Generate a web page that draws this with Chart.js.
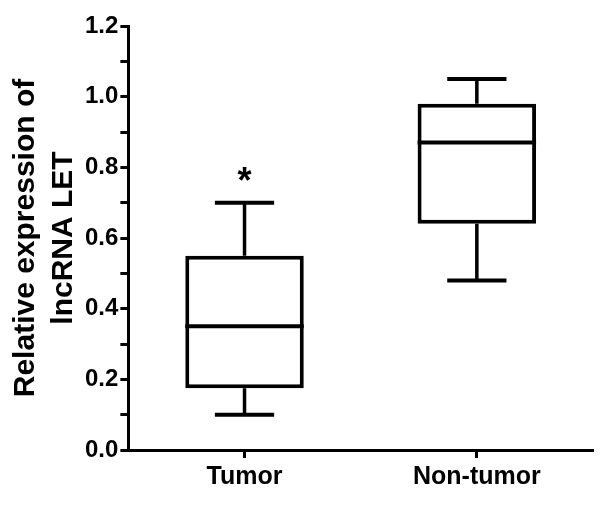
<!DOCTYPE html>
<html>
<head>
<meta charset="utf-8">
<script src="https://cdn.jsdelivr.net/npm/chart.js@4"></script>
<style>
  html, body { margin: 0; padding: 0; background: #fff; }
  #wrap { width: 600px; height: 506px; }
</style>
</head>
<body>
<div id="wrap"><canvas id="chart" width="600" height="506"></canvas></div>
<script>
const categories = ['Tumor', 'Non-tumor'];
const whiskerLow = [0.10, 0.48];
const q1 = [0.175, 0.64];
const median = [0.35, 0.87];
const q3 = [0.55, 0.98];
const whiskerHigh = [0.70, 1.05];
const marks = ['*', ''];
const markLevel = [0.78, null];

const FONT = "'Liberation Sans', Arial, sans-serif";

// whiskers, caps, medians and the asterisk, placed with the chart's own scales
const boxExtras = {
  id: 'boxExtras',
  afterDatasetsDraw(chart) {
    const ctx = chart.ctx;
    const y = chart.scales.y;
    const meta = chart.getDatasetMeta(0);
    ctx.save();
    ctx.strokeStyle = '#000';
    ctx.lineCap = 'butt';
    meta.data.forEach((bar, i) => {
      const cx = bar.x;
      const half = bar.width / 2;
      const cap = bar.width * 0.25;
      // whiskers
      ctx.lineWidth = 3.5;
      ctx.beginPath();
      ctx.moveTo(cx, y.getPixelForValue(q3[i]));
      ctx.lineTo(cx, y.getPixelForValue(whiskerHigh[i]));
      ctx.moveTo(cx, y.getPixelForValue(q1[i]));
      ctx.lineTo(cx, y.getPixelForValue(whiskerLow[i]));
      ctx.stroke();
      // caps
      ctx.lineWidth = 4;
      ctx.beginPath();
      ctx.moveTo(cx - cap, y.getPixelForValue(whiskerHigh[i]));
      ctx.lineTo(cx + cap, y.getPixelForValue(whiskerHigh[i]));
      ctx.moveTo(cx - cap, y.getPixelForValue(whiskerLow[i]));
      ctx.lineTo(cx + cap, y.getPixelForValue(whiskerLow[i]));
      ctx.stroke();
      // median
      ctx.lineWidth = 4;
      ctx.beginPath();
      ctx.moveTo(cx - half, y.getPixelForValue(median[i]));
      ctx.lineTo(cx + half, y.getPixelForValue(median[i]));
      ctx.stroke();
      // significance mark
      if (marks[i]) {
        ctx.fillStyle = '#000';
        ctx.font = 'bold 36px ' + FONT;
        ctx.textAlign = 'center';
        ctx.textBaseline = 'middle';
        ctx.fillText(marks[i], cx, y.getPixelForValue(markLevel[i]) + 9);
      }
    });
    ctx.restore();
  }
};

new Chart(document.getElementById('chart'), {
  type: 'bar',
  data: {
    labels: categories,
    datasets: [{
      data: categories.map((c, i) => [q1[i], q3[i]]),
      backgroundColor: '#fff',
      borderColor: '#000',
      borderWidth: 4,
      borderSkipped: false,
      barPercentage: 0.51,
      categoryPercentage: 1
    }]
  },
  options: {
    responsive: false,
    animation: false,
    layout: { padding: { left: 7, right: 7, top: 26, bottom: 10 } },
    plugins: {
      legend: { display: false },
      tooltip: { enabled: false }
    },
    scales: {
      x: {
        offset: true,
        border: { display: true, color: '#000', width: 3 },
        grid: { drawOnChartArea: false, drawTicks: true, tickLength: 8, tickWidth: 3, tickColor: '#000', offset: false },
        ticks: { color: '#000', font: { family: FONT, size: 25, weight: 'bold' }, padding: 4 }
      },
      y: {
        min: 0,
        max: 1.2,
        border: { display: true, color: '#000', width: 3 },
        grid: { drawOnChartArea: false, drawTicks: true, tickLength: 8, tickWidth: 3, tickColor: '#000' },
        ticks: {
          stepSize: 0.1,
          autoSkip: false,
          color: '#000',
          font: { family: FONT, size: 24, weight: 'bold' },
          padding: 2,
          callback: v => (Math.round(v * 10) % 2 === 0 ? v.toFixed(1) : '')
        },
        title: {
          display: true,
          text: ['Relative expression of', 'lncRNA LET'],
          color: '#000',
          font: { family: FONT, size: 30, weight: 'bold', lineHeight: 1.25 },
          padding: { top: 0, bottom: 1 }
        }
      }
    }
  },
  plugins: [boxExtras]
});
</script>
</body>
</html>
